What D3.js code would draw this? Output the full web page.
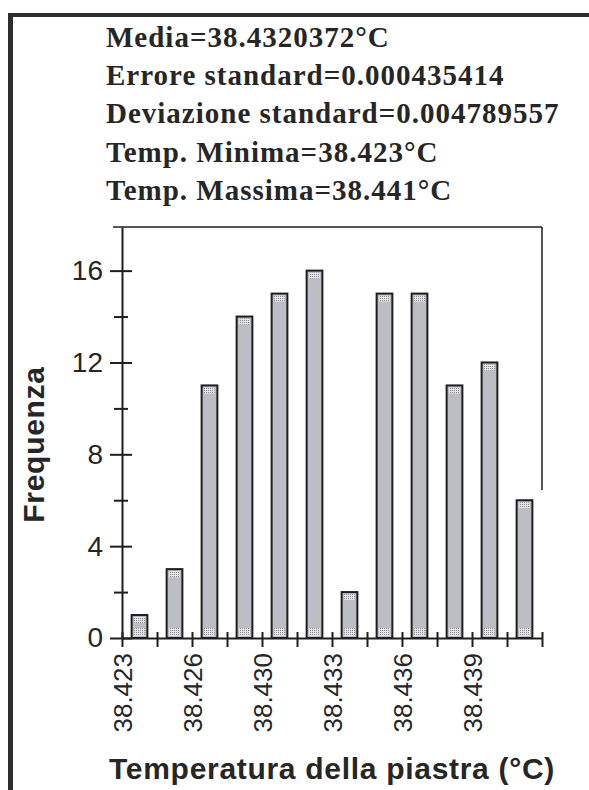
<!DOCTYPE html>
<html>
<head>
<meta charset="utf-8">
<script src="https://cdn.jsdelivr.net/npm/d3@7"></script>
<style>
  html, body { margin: 0; padding: 0; background: #ffffff; }
  svg { display: block; }
</style>
</head>
<body>
<svg id="chart" width="589" height="790"></svg>
<script>
// Summary statistics printed above the histogram
const summaryLines = [
  "Media=38.4320372°C",
  "Errore standard=0.000435414",
  "Deviazione standard=0.004789557",
  "Temp. Minima=38.423°C",
  "Temp. Massima=38.441°C"
];

// Histogram bins: labels on every other bin edge, counts per bin
const binEdgeLabels = ["38.423", "", "38.426", "", "38.430", "", "38.433", "", "38.436", "", "38.439", "", ""];
const frequencies = [1, 3, 11, 14, 15, 16, 2, 15, 15, 11, 12, 6];

// Frequency axis ticks
const yMajorTicks = [0, 4, 8, 12, 16];
const yMinorTicks = [2, 6, 10, 14];

const yTitle = "Frequenza";
const xTitle = "Temperatura della piastra (°C)";

const svg = d3.select("#chart");
const ink = "#1e1e1e";
const serif = "'Liberation Serif', 'Times New Roman', serif";
const sans = "'Liberation Sans', Arial, sans-serif";

// Plot area
const plot = { left: 122, right: 542, top: 227, bottom: 638 };

// Stipple pattern for the bar ends
const defs = svg.append("defs");
const pat = defs.append("pattern")
  .attr("id", "stipple")
  .attr("width", 2).attr("height", 2)
  .attr("patternUnits", "userSpaceOnUse");
pat.append("rect").attr("width", 2).attr("height", 2).attr("fill", "#e4e4e6");
pat.append("rect").attr("width", 1).attr("height", 1).attr("fill", "#8e8e94");

// Page frame
svg.append("line")
  .attr("x1", 8).attr("x2", 589).attr("y1", 15).attr("y2", 15)
  .attr("stroke", "#2e2e2e").attr("stroke-width", 4);
svg.append("line")
  .attr("x1", 10.5).attr("x2", 10.5).attr("y1", 13).attr("y2", 790)
  .attr("stroke", "#2e2e2e").attr("stroke-width", 5);

// Summary text block
svg.append("g")
  .selectAll("text")
  .data(summaryLines)
  .join("text")
  .attr("x", 106)
  .attr("y", (d, i) => 47 + i * 38.2)
  .attr("font-family", serif)
  .attr("font-weight", "bold")
  .attr("font-size", 29)
  .attr("letter-spacing", 1)
  .attr("fill", "#262626")
  .text(d => d);

// Scales
const nBins = frequencies.length;
const xEdge = d3.scaleLinear().domain([0, nBins]).range([plot.left, plot.right]);
const xBand = d3.scaleBand()
  .domain(d3.range(nBins))
  .range([plot.left, plot.right])
  .paddingInner(0.55)
  .paddingOuter(0.275);
const y = d3.scaleLinear().domain([0, 17.9]).range([plot.bottom, plot.top]);

// Box line over the plot
svg.append("line")
  .attr("x1", 113).attr("x2", plot.right).attr("y1", plot.top).attr("y2", plot.top)
  .attr("stroke", ink).attr("stroke-width", 1.5);
svg.append("line")
  .attr("x1", plot.right).attr("x2", plot.right).attr("y1", plot.top).attr("y2", 490)
  .attr("stroke", ink).attr("stroke-width", 1.5);

// Bars
const bars = svg.append("g");
bars.selectAll("rect.bar")
  .data(frequencies)
  .join("rect")
  .attr("class", "bar")
  .attr("x", (d, i) => xBand(i))
  .attr("y", d => y(d))
  .attr("width", xBand.bandwidth())
  .attr("height", d => y(0) - y(d))
  .attr("fill", "#bdbdc4")
  .attr("stroke", ink)
  .attr("stroke-width", 2);

// Stippled caps at top and bottom of each bar
bars.selectAll("rect.cap-top")
  .data(frequencies)
  .join("rect")
  .attr("class", "cap-top")
  .attr("x", (d, i) => xBand(i) + 2.5)
  .attr("y", d => y(d) + 2)
  .attr("width", xBand.bandwidth() - 5)
  .attr("height", 6)
  .attr("fill", "url(#stipple)");
bars.selectAll("rect.cap-bottom")
  .data(frequencies)
  .join("rect")
  .attr("class", "cap-bottom")
  .attr("x", (d, i) => xBand(i) + 2.5)
  .attr("y", y(0) - 10)
  .attr("width", xBand.bandwidth() - 5)
  .attr("height", 8)
  .attr("fill", "url(#stipple)");

// Y axis
const yAxis = svg.append("g")
  .attr("transform", `translate(${plot.left},0)`)
  .call(d3.axisLeft(y)
    .tickValues(d3.sort(yMajorTicks.concat(yMinorTicks)))
    .tickFormat(d => yMajorTicks.includes(d) ? d : "")
    .tickSizeOuter(0));
yAxis.select(".domain").attr("stroke", ink).attr("stroke-width", 2);
yAxis.selectAll(".tick line")
  .attr("stroke", ink).attr("stroke-width", 2)
  .attr("x1", d => yMajorTicks.includes(d) ? -12 : -8)
  .attr("x2", d => yMajorTicks.includes(d) ? 10 : 6);
yAxis.selectAll(".tick text")
  .attr("x", -19)
  .attr("font-family", sans)
  .attr("font-size", 28)
  .attr("fill", "#262626");

// X axis
const xAxis = svg.append("g")
  .attr("transform", `translate(0,${plot.bottom})`)
  .call(d3.axisBottom(xEdge)
    .tickValues(d3.range(nBins + 1))
    .tickFormat(i => binEdgeLabels[i])
    .tickSizeOuter(0));
xAxis.select(".domain").attr("stroke", ink).attr("stroke-width", 2);
xAxis.selectAll(".tick line")
  .attr("stroke", ink).attr("stroke-width", 2)
  .attr("y1", -6).attr("y2", 9);
xAxis.selectAll(".tick text")
  .attr("transform", "rotate(-90)")
  .attr("text-anchor", "end")
  .attr("x", -15)
  .attr("y", 0)
  .attr("dy", "0.36em")
  .attr("font-family", sans)
  .attr("font-size", 26)
  .attr("fill", "#262626");

// Axis titles
svg.append("text")
  .attr("transform", `translate(44,${(plot.top + plot.bottom) / 2 + 12}) rotate(-90)`)
  .attr("text-anchor", "middle")
  .attr("font-family", sans)
  .attr("font-weight", "bold")
  .attr("font-size", 30)
  .attr("letter-spacing", 0.7)
  .attr("fill", "#262626")
  .text(yTitle);

svg.append("text")
  .attr("x", (plot.left + plot.right) / 2)
  .attr("y", 779)
  .attr("text-anchor", "middle")
  .attr("font-family", sans)
  .attr("font-weight", "bold")
  .attr("font-size", 30)
  .attr("letter-spacing", 0.7)
  .attr("fill", "#262626")
  .text(xTitle);
</script>
</body>
</html>
